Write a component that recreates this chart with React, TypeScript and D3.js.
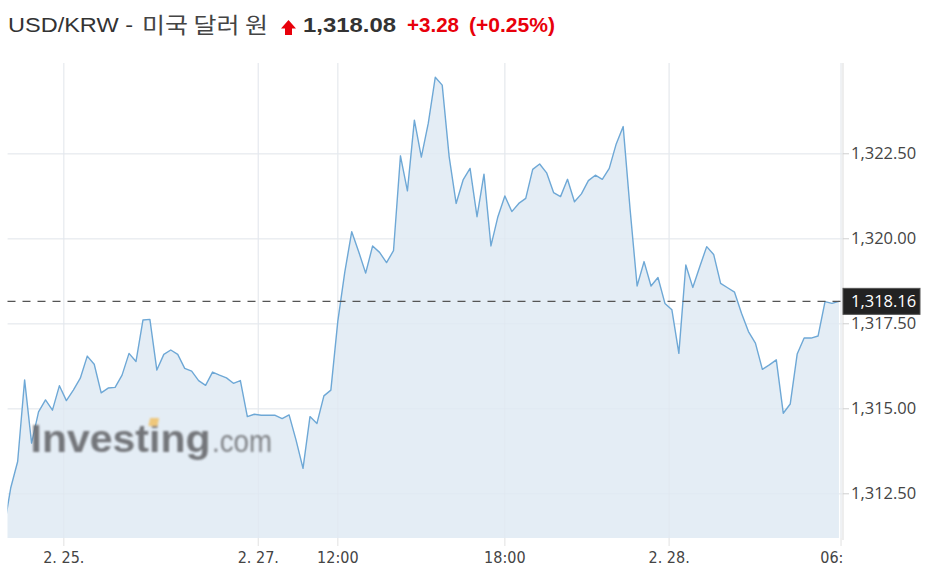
import React from "react";
import * as d3 from "d3";

const values: number[] = [
  1311.45, 1312.67, 1313.45, 1315.85, 1313.99, 1314.91, 1315.26, 1314.96, 1315.68, 1315.24,
  1315.55, 1315.9, 1316.55, 1316.31, 1315.47, 1315.61, 1315.63, 1315.99, 1316.63, 1316.39,
  1317.61, 1317.63, 1316.14, 1316.6, 1316.73, 1316.6, 1316.19, 1316.11, 1315.83, 1315.69,
  1316.08, 1315.99, 1315.91, 1315.75, 1315.83, 1314.77, 1314.84, 1314.81, 1314.81, 1314.81,
  1314.71, 1314.82, 1314.08, 1313.25, 1314.77, 1314.57, 1315.38, 1315.55, 1317.58, 1319.02,
  1320.21, 1319.62, 1318.99, 1319.79, 1319.6, 1319.3, 1319.65, 1322.44, 1321.41, 1323.49,
  1322.4, 1323.4, 1324.75, 1324.52, 1322.41, 1321.04, 1321.73, 1322.07, 1320.65, 1321.9,
  1319.79, 1320.65, 1321.26, 1320.8, 1321.04, 1321.19, 1322.04, 1322.2, 1321.94, 1321.36,
  1321.24, 1321.75, 1321.09, 1321.32, 1321.71, 1321.87, 1321.75, 1322.07, 1322.79, 1323.3,
  1320.85, 1318.61, 1319.33, 1318.61, 1318.86, 1318.1, 1317.91, 1316.63, 1319.23, 1318.57,
  1319.18, 1319.77, 1319.54, 1318.69, 1318.56, 1318.43, 1317.81, 1317.27, 1316.93, 1316.16,
  1316.29, 1316.44, 1314.87, 1315.14, 1316.61, 1317.08, 1317.08, 1317.14, 1318.15, 1318.1,
  1318.16,
];

const xTickIndex: number[] = [8.63, 36.57, 48, 72, 95.6, 120.3];
const xTickLabels: string[] = ["2. 25.", "2. 27.", "12:00", "18:00", "2. 28.", "06:00"];
const yTicks: number[] = [1312.5, 1315, 1317.5, 1320, 1322.5];
const lastValue = 1318.16;

const titleSymbol = "USD/KRW -";
const titleKorean = "미국 달러 원";
const titlePrice = "1,318.08";
const titleChange = "+3.28";
const titlePct = "(+0.25%)";

const W = 932;
const H = 579;
const plotLeft = 7.5;
const plotRight = 843;
const plotTop = 63;
const plotBottom = 538;

export default function App() {
  const x = d3.scaleLinear().domain([0, 120]).range([3.74, 838.94]);
  const y = d3.scaleLinear().domain([1311.2, 1325.17]).range([plotBottom, plotTop]);
  const fmt = d3.format(",.2f");

  const line = d3
    .line<number>()
    .x((_, i) => x(i))
    .y((d) => y(d));
  const area = d3
    .area<number>()
    .x((_, i) => x(i))
    .y0(plotBottom)
    .y1((d) => y(d));

  const yLast = y(lastValue);
  const red = "#e8000b";
  const tb = 32;

  return (
    <svg
      width={W}
      height={H}
      style={{ position: "fixed", left: 0, top: 0, background: "#fff" }}
      fontFamily="'Liberation Sans', Arial, 'Noto Sans CJK KR', sans-serif"
    >
      <defs>
        <clipPath id="plotClip">
          <rect x={plotLeft} y={plotTop} width={plotRight - plotLeft} height={plotBottom - plotTop} />
        </clipPath>
        <clipPath id="xlabClip">
          <rect x={0} y={plotBottom} width={plotRight} height={H - plotBottom} />
        </clipPath>
        <filter id="soft" x="-5%" y="-5%" width="110%" height="110%">
          <feGaussianBlur stdDeviation="0.8" />
        </filter>
      </defs>

      {/* Title */}
      <text x={8} y={tb} fontSize={21} fill="#333" textLength={125} lengthAdjust="spacingAndGlyphs">
        {titleSymbol}
      </text>
      <text
        x={142}
        y={tb + 1}
        fontSize={22}
        fill="#444"
        fontFamily="'Noto Sans CJK KR', sans-serif"
        textLength={126}
        lengthAdjust="spacingAndGlyphs"
      >
        {titleKorean}
      </text>
      <path
        d="M288.5,20 L296,28.5 L292,28.5 L292,35 L285,35 L285,28.5 L281,28.5 Z"
        fill={red}
      />
      <text x={303} y={tb} fontSize={21} fontWeight="bold" fill="#333" textLength={93} lengthAdjust="spacingAndGlyphs">
        {titlePrice}
      </text>
      <text x={407} y={tb} fontSize={20} fontWeight="bold" fill={red} textLength={52} lengthAdjust="spacingAndGlyphs">
        {titleChange}
      </text>
      <text x={469} y={tb} fontSize={20} fontWeight="bold" fill={red} textLength={86} lengthAdjust="spacingAndGlyphs">
        {titlePct}
      </text>

      {/* grid */}
      <g>
        {yTicks.map((t) => (
          <line key={"hg" + t} x1={plotLeft} x2={plotRight} y1={y(t)} y2={y(t)} stroke="#f1f1f1" strokeWidth={1.2} />
        ))}
        {xTickIndex.map((t, i) => (
          <line key={"vg" + i} x1={x(t)} x2={x(t)} y1={plotTop} y2={plotBottom} stroke="#f1f1f1" strokeWidth={1.2} />
        ))}
      </g>

      {/* area + line */}
      <g clipPath="url(#plotClip)">
        <path d={area(values) || ""} fill="#e4edf5" />
        {xTickIndex.map((t, i) => (
          <line key={"vg2" + i} x1={x(t)} x2={x(t)} y1={plotTop} y2={plotBottom} stroke="#dfe6ee" strokeWidth={1} opacity={0.6} />
        ))}
        {yTicks.map((t) => (
          <line key={"hg2" + t} x1={plotLeft} x2={plotRight} y1={y(t)} y2={y(t)} stroke="#dde5ee" strokeWidth={1} opacity={0.5} />
        ))}
        <path d={line(values) || ""} fill="none" stroke="#6ea8d6" strokeWidth={1.4} strokeLinejoin="round" />
      </g>

      {/* watermark */}
      <g filter="url(#soft)" opacity={0.92}>
        <text
          x={30.5}
          y={451.5}
          fontSize={39.5}
          fontWeight="bold"
          fill="#6a6c6f"
          textLength={180}
          lengthAdjust="spacingAndGlyphs"
        >
          Investing
        </text>
        <rect x={150} y={418} width={9} height={8} fill="#f0c471" transform="skewX(-12) translate(89,0)" />
        <text x={212} y={451.5} fontSize={31} fill="#76787b" textLength={60} lengthAdjust="spacingAndGlyphs">
          .com
        </text>
      </g>

      {/* right border */}
      <line x1={plotRight} x2={plotRight} y1={plotTop} y2={plotBottom + 2} stroke="#e2e2e2" strokeWidth={1.2} />

      {/* x ticks & labels */}
      <g>
        {xTickIndex.map((t, i) => (
          <line key={"xt" + i} x1={x(t)} x2={x(t)} y1={plotBottom} y2={plotBottom + 8} stroke="#e6e6e6" strokeWidth={1.2} />
        ))}
      </g>
      <g clipPath="url(#xlabClip)">
        {xTickIndex.map((t, i) => (
          <text
            key={"xl" + i}
            x={x(t)}
            y={563}
            fontSize={16}
            textAnchor="middle"
            fill="#444"
            fontFamily="'Liberation Sans Narrow', 'Arial Narrow', 'DejaVu Sans Condensed', sans-serif"
          >
            {xTickLabels[i]}
          </text>
        ))}
      </g>

      {/* y ticks & labels */}
      <g>
        {yTicks.map((t) => (
          <g key={"yt" + t}>
            <line x1={plotRight} x2={plotRight + 6} y1={y(t)} y2={y(t)} stroke="#cfcfcf" strokeWidth={1} />
            <text x={851} y={y(t) + 5.5} fontSize={16.5} fill="#444" fontFamily="'Open Sans', 'Noto Sans', sans-serif">
              {fmt(t)}
            </text>
          </g>
        ))}
      </g>

      {/* last value dashed line + label */}
      <line
        x1={plotLeft}
        x2={plotRight}
        y1={yLast}
        y2={yLast}
        stroke="#555"
        strokeWidth={1.3}
        strokeDasharray="8,7"
      />
      <rect x={plotRight} y={yLast - 13} width={77} height={26} fill="#222" stroke="#555" strokeWidth={1} />
      <text
        x={851}
        y={yLast + 6}
        fontSize={16.5}
        fill="#fff"
        fontFamily="'Open Sans', 'Noto Sans', sans-serif"
      >
        {fmt(lastValue)}
      </text>
    </svg>
  );
}
